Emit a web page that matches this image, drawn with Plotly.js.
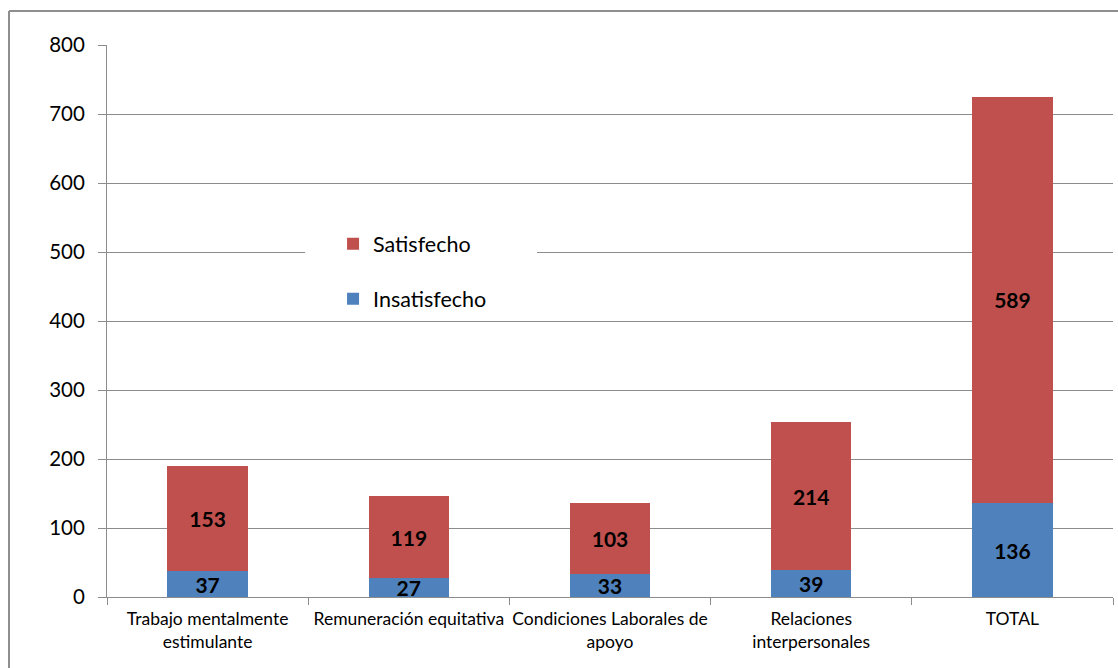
<!DOCTYPE html>
<html>
<head>
<meta charset="utf-8">
<script src="https://cdn.plot.ly/plotly-3.0.1.min.js"></script>
<style>
  html, body { margin: 0; padding: 0; background: #ffffff; }
  #chart { width: 1118px; height: 668px; }
</style>
</head>
<body>
<div id="chart"></div>
<script>
// Satisfacción laboral por dimensión
const categories = [
  'Trabajo mentalmente<br>estimulante',
  'Remuneración equitativa',
  'Condiciones Laborales de<br>apoyo',
  'Relaciones<br>interpersonales',
  'TOTAL'
];
const insatisfecho = [37, 27, 33, 39, 136];
const satisfecho = [153, 119, 103, 214, 589];
const yTicks = [0, 100, 200, 300, 400, 500, 600, 700, 800];

const FONT = 'Lato, "Open Sans", sans-serif';
const GRID = '#8c8c8c';

const labelFont = { family: FONT, size: 21, color: '#000000', weight: 'bold' };

const traces = [
  {
    type: 'bar',
    name: 'Insatisfecho',
    x: categories,
    y: insatisfecho,
    legendgroup: 'a',
    legendrank: 2,
    marker: { color: '#4F81BD', line: { width: 0 } },
    text: insatisfecho.map(String),
    textposition: 'inside',
    insidetextanchor: 'middle',
    constraintext: 'none',
    textangle: 0,
    insidetextfont: labelFont,
    hoverinfo: 'skip'
  },
  {
    type: 'bar',
    name: 'Satisfecho',
    x: categories,
    y: satisfecho,
    legendgroup: 'b',
    legendrank: 1,
    marker: { color: '#C0504D', line: { width: 0 } },
    text: satisfecho.map(String),
    textposition: 'inside',
    insidetextanchor: 'middle',
    constraintext: 'none',
    textangle: 0,
    insidetextfont: labelFont,
    hoverinfo: 'skip'
  }
];

const layout = {
  width: 1118,
  height: 668,
  margin: { l: 107, r: 5, t: 45, b: 71 },
  paper_bgcolor: '#ffffff',
  plot_bgcolor: '#ffffff',
  barmode: 'stack',
  bargap: 0.6,
  font: { family: FONT, color: '#000000' },
  showlegend: true,
  legend: {
    x: 0.2247, xanchor: 'left',
    y: 0.677, yanchor: 'top',
    bgcolor: 'rgba(0,0,0,0)',
    borderwidth: 0,
    traceorder: 'grouped',
    tracegroupgap: 24,
    font: { family: FONT, size: 21.5, color: '#000000' },
    itemclick: false
  },
  xaxis: {
    type: 'category',
    showgrid: false,
    showline: true,
    linecolor: GRID,
    linewidth: 1,
    ticks: 'outside',
    tickson: 'boundaries',
    ticklen: 7,
    tickcolor: GRID,
    tickangle: 0,
    ticklabelstandoff: 6,
    tickfont: { family: FONT, size: 17.5, color: '#000000' },
    fixedrange: true
  },
  yaxis: {
    range: [0, 800],
    tickvals: yTicks,
    ticktext: yTicks.map(String),
    showgrid: true,
    gridcolor: GRID,
    gridwidth: 1,
    zeroline: false,
    showline: true,
    linecolor: GRID,
    linewidth: 1,
    ticks: 'outside',
    ticklen: 8,
    tickcolor: GRID,
    ticklabelstandoff: 9,
    tickfont: { family: FONT, size: 20.5, color: '#000000' },
    fixedrange: true
  },
  shapes: [
    // blank panel behind the legend
    {
      type: 'rect', xref: 'paper', yref: 'paper',
      x0: 0.197, x1: 0.4274, y0: 0.502, y1: 0.687,
      fillcolor: '#ffffff', line: { width: 0 }, layer: 'above'
    },
    // chart frame (top and left edges)
    {
      type: 'line', xref: 'paper', yref: 'paper',
      x0: -0.0974, x1: 1.02, y0: 1.0616, y1: 1.0616,
      line: { color: '#8e8e8e', width: 2 }
    },
    {
      type: 'line', xref: 'paper', yref: 'paper',
      x0: -0.0974, x1: -0.0974, y0: -0.2, y1: 1.0616,
      line: { color: '#8e8e8e', width: 2 }
    }
  ]
};

Plotly.newPlot('chart', traces, layout, { displayModeBar: false, staticPlot: true });
</script>
</body>
</html>
